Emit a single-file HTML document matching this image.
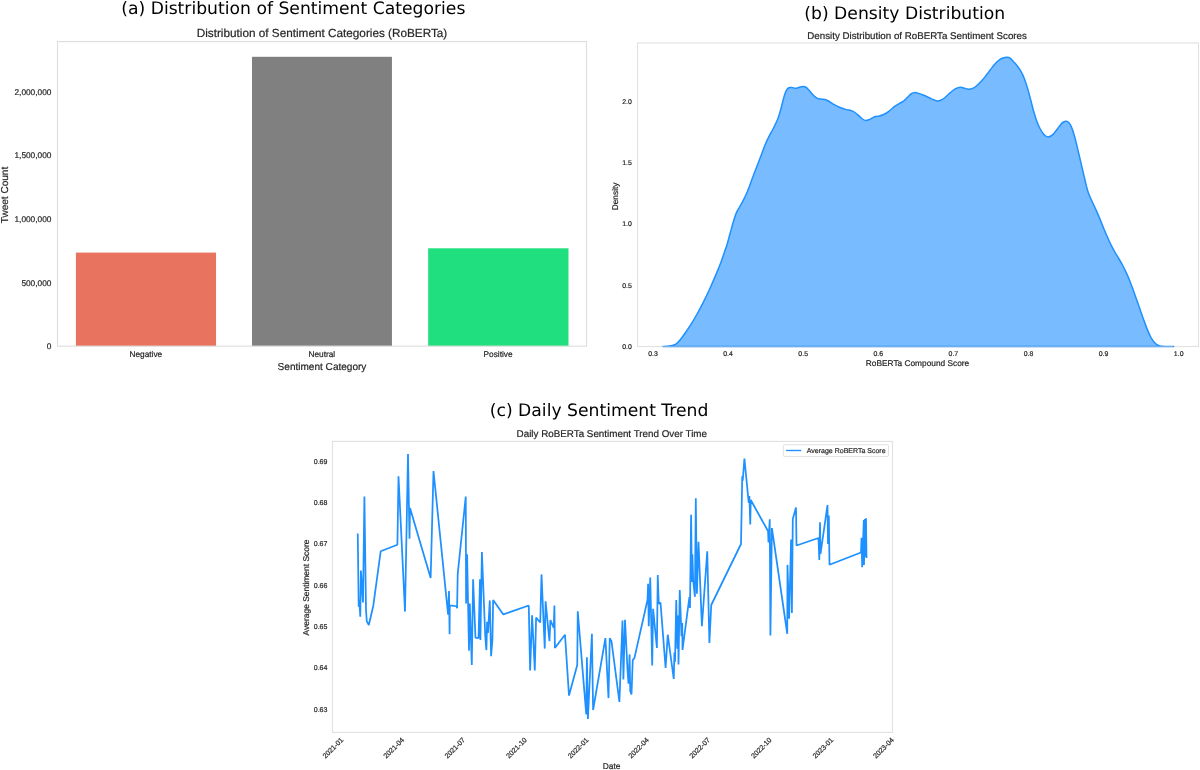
<!DOCTYPE html>
<html><head><meta charset="utf-8"><title>Sentiment figure</title>
<style>
html,body{margin:0;padding:0;background:#fff;}
body{width:1200px;height:770px;overflow:hidden;}
svg{display:block;}
.dj{text-rendering:geometricPrecision;font-family:"DejaVu Sans","Liberation Sans",sans-serif;fill:#000;}
.lb{text-rendering:geometricPrecision;stroke:#262626;stroke-width:0.2px;font-family:"Liberation Sans",sans-serif;fill:#262626;}
.ax{fill:none;stroke:#dedede;stroke-width:1.15;}
</style></head><body>
<svg width="1200" height="770" viewBox="0 0 1200 770">
<rect width="1200" height="770" fill="#fff"/>

<text class="dj" x="293.3" y="14.3" font-size="17.2" text-anchor="middle">(a) Distribution of Sentiment Categories</text>
<text class="dj" x="904.75" y="18.8" font-size="17.2" text-anchor="middle">(b) Density Distribution</text>
<text class="dj" x="599.1" y="415.6" font-size="17.2" text-anchor="middle">(c) Daily Sentiment Trend</text>
<g id="panel-a">
<rect x="75.9" y="252.6" width="140.15" height="93.55" fill="#e8735e"/>
<rect x="252.0" y="56.8" width="139.95" height="289.35" fill="#808080"/>
<rect x="428.15" y="248.3" width="140.35000000000002" height="97.85" fill="#20df7f"/>
<rect class="ax" x="57.5" y="41.6" width="529.0" height="304.54999999999995"/>
<text class="lb" x="322" y="36.7" font-size="11.75" text-anchor="middle">Distribution of Sentiment Categories (RoBERTa)</text>
<text class="lb" x="51.4" y="349.3" font-size="8.3" text-anchor="end">0</text>
<text class="lb" x="51.4" y="285.65" font-size="8.3" text-anchor="end">500,000</text>
<text class="lb" x="51.4" y="222" font-size="8.3" text-anchor="end">1,000,000</text>
<text class="lb" x="51.4" y="158.35" font-size="8.3" text-anchor="end">1,500,000</text>
<text class="lb" x="51.4" y="94.7" font-size="8.3" text-anchor="end">2,000,000</text>
<text class="lb" x="145.8" y="357.2" font-size="8.3" text-anchor="middle">Negative</text>
<text class="lb" x="321.8" y="357.2" font-size="8.3" text-anchor="middle">Neutral</text>
<text class="lb" x="498.1" y="357.2" font-size="8.3" text-anchor="middle">Positive</text>
<text class="lb" x="322" y="370.2" font-size="10.05" text-anchor="middle">Sentiment Category</text>
<text class="lb" x="0" y="0" font-size="10.05" text-anchor="middle" transform="translate(7.8,195) rotate(-90)">Tweet Count</text>
</g>
<g id="panel-b">
<rect class="ax" style="stroke:#e2e2e2" x="637.5" y="43.0" width="561.0" height="303.5"/>
<path d="M663,346.4C663.67,346.37 665.42,346.35 667,346.2C668.58,346.05 670.96,345.88 672.5,345.5C674.04,345.12 675,344.8 676.25,343.9C677.5,343 678.54,341.88 680,340.1C681.46,338.33 683.12,335.95 685,333.25C686.88,330.55 689.17,327.23 691.25,323.9C693.33,320.57 695.42,317 697.5,313.25C699.58,309.5 701.67,305.57 703.75,301.4C705.83,297.23 707.92,292.83 710,288.25C712.08,283.67 714.38,278.38 716.25,273.9C718.12,269.42 719.91,264.97 721.25,261.4C722.59,257.83 723.36,255.23 724.3,252.5C725.24,249.77 725.95,248.12 726.9,245C727.85,241.88 728.97,237.5 730,233.75C731.03,230 732.06,225.94 733.1,222.5C734.14,219.06 735.1,215.81 736.25,213.1C737.4,210.39 738.75,208.53 740,206.25C741.25,203.97 742.5,201.9 743.75,199.4C745,196.9 746.25,194.28 747.5,191.25C748.75,188.22 750,184.58 751.25,181.25C752.5,177.92 753.84,174.29 755,171.25C756.16,168.21 757.16,165.71 758.2,163C759.24,160.29 760.12,158 761.25,155C762.38,152 763.75,148.02 765,145C766.25,141.98 767.5,139.4 768.75,136.9C770,134.4 771.36,132.19 772.5,130C773.64,127.81 774.67,125.73 775.6,123.75C776.53,121.77 777.27,120.39 778.1,118.1C778.93,115.81 779.87,112.6 780.6,110C781.33,107.4 781.87,104.9 782.5,102.5C783.13,100.1 783.77,97.58 784.4,95.6C785.02,93.62 785.52,91.91 786.25,90.6C786.98,89.29 787.81,88.27 788.75,87.75C789.69,87.23 790.76,87.42 791.9,87.5C793.04,87.58 794.35,88.29 795.6,88.25C796.85,88.21 798.15,87.53 799.4,87.25C800.65,86.97 801.96,86.56 803.1,86.6C804.24,86.64 805.2,86.83 806.25,87.5C807.3,88.17 808.26,89.35 809.4,90.6C810.54,91.85 811.85,93.75 813.1,95C814.35,96.25 815.65,97.42 816.9,98.1C818.15,98.78 819.25,98.88 820.6,99.1C821.95,99.32 823.64,99.04 825,99.4C826.36,99.76 827.29,100.42 828.75,101.25C830.21,102.08 831.88,103.36 833.75,104.4C835.62,105.44 837.92,106.63 840,107.5C842.08,108.37 844.38,109.08 846.25,109.6C848.12,110.12 849.79,110.12 851.25,110.6C852.71,111.08 853.75,111.67 855,112.5C856.25,113.33 857.5,114.52 858.75,115.6C860,116.68 861.36,118.2 862.5,119C863.64,119.8 864.56,120.28 865.6,120.4C866.64,120.53 867.6,120.17 868.75,119.75C869.9,119.33 871.36,118.44 872.5,117.9C873.64,117.36 874.45,116.83 875.6,116.5C876.75,116.17 878.15,116.19 879.4,115.9C880.65,115.61 881.85,115.28 883.1,114.75C884.35,114.22 885.58,113.62 886.9,112.75C888.22,111.88 889.65,110.59 891,109.5C892.35,108.41 893.5,107.27 895,106.2C896.5,105.13 898.54,103.97 900,103.1C901.46,102.23 902.5,101.97 903.75,101C905,100.03 906.25,98.46 907.5,97.25C908.75,96.04 910,94.54 911.25,93.75C912.5,92.96 913.75,92.56 915,92.5C916.25,92.44 917.29,92.94 918.75,93.4C920.21,93.86 922.08,94.57 923.75,95.25C925.42,95.93 927.08,96.75 928.75,97.5C930.42,98.25 932.29,99.18 933.75,99.75C935.21,100.32 936.25,100.86 937.5,100.9C938.75,100.94 940,100.57 941.25,100C942.5,99.43 943.75,98.5 945,97.5C946.25,96.5 947.4,95.21 948.75,94C950.1,92.79 951.64,91.27 953.1,90.25C954.56,89.23 956.25,88.4 957.5,87.9C958.75,87.4 959.56,87.25 960.6,87.25C961.64,87.25 962.6,87.61 963.75,87.9C964.9,88.19 966.36,88.8 967.5,89C968.64,89.2 969.56,89.28 970.6,89.1C971.64,88.92 972.6,88.58 973.75,87.9C974.9,87.22 976.25,86.11 977.5,85C978.75,83.89 980,82.6 981.25,81.25C982.5,79.9 983.75,78.46 985,76.9C986.25,75.34 987.5,73.57 988.75,71.9C990,70.23 991.25,68.47 992.5,66.9C993.75,65.33 995,63.75 996.25,62.5C997.5,61.25 998.75,60.19 1000,59.4C1001.25,58.61 1002.6,58.11 1003.75,57.75C1004.9,57.39 1005.86,57.19 1006.9,57.25C1007.94,57.31 1008.86,57.33 1010,58.1C1011.14,58.88 1012.5,60.54 1013.75,61.9C1015,63.26 1016.25,64.58 1017.5,66.25C1018.75,67.92 1020.1,69.82 1021.25,71.9C1022.4,73.98 1023.36,76.05 1024.4,78.75C1025.44,81.45 1026.47,84.66 1027.5,88.1C1028.53,91.54 1029.62,95.67 1030.6,99.4C1031.58,103.13 1032.35,106.8 1033.4,110.5C1034.45,114.2 1035.8,118.6 1036.9,121.6C1038,124.6 1038.97,126.52 1040,128.5C1041.03,130.48 1042.17,132.25 1043.1,133.5C1044.03,134.75 1044.77,135.43 1045.6,136C1046.43,136.57 1047.16,136.94 1048.1,136.9C1049.04,136.86 1050.2,136.42 1051.25,135.75C1052.3,135.08 1053.36,134.07 1054.4,132.9C1055.44,131.73 1056.47,130.11 1057.5,128.75C1058.53,127.39 1059.67,125.83 1060.6,124.75C1061.53,123.67 1062.16,122.83 1063.1,122.25C1064.04,121.67 1065.31,121.21 1066.25,121.25C1067.19,121.29 1067.92,121.61 1068.75,122.5C1069.58,123.39 1070.42,124.77 1071.25,126.6C1072.08,128.43 1072.92,130.78 1073.75,133.5C1074.58,136.22 1075.42,139.57 1076.25,142.9C1077.08,146.23 1077.92,149.97 1078.75,153.5C1079.58,157.03 1080.42,160.56 1081.25,164.1C1082.08,167.64 1082.94,171.31 1083.75,174.75C1084.56,178.19 1085.29,181.62 1086.1,184.75C1086.91,187.88 1087.53,190.58 1088.6,193.5C1089.67,196.42 1091.22,199.43 1092.5,202.25C1093.78,205.07 1095,207.59 1096.25,210.4C1097.5,213.21 1098.75,216.08 1100,219.1C1101.25,222.12 1102.5,225.47 1103.75,228.5C1105,231.53 1106.25,234.43 1107.5,237.25C1108.75,240.07 1110,242.9 1111.25,245.4C1112.5,247.9 1113.75,250.07 1115,252.25C1116.25,254.43 1117.5,256.38 1118.75,258.5C1120,260.62 1121.19,262.52 1122.5,265C1123.81,267.48 1125.17,270.2 1126.6,273.4C1128.03,276.6 1129.6,280.31 1131.1,284.2C1132.6,288.09 1134.12,292.57 1135.6,296.75C1137.08,300.93 1138.64,305.39 1140,309.25C1141.36,313.11 1142.5,316.46 1143.75,319.9C1145,323.34 1146.36,327.09 1147.5,329.9C1148.64,332.71 1149.56,334.77 1150.6,336.75C1151.64,338.73 1152.7,340.44 1153.75,341.75C1154.8,343.06 1155.86,343.91 1156.9,344.6C1157.94,345.29 1158.65,345.6 1160,345.9C1161.35,346.2 1162.73,346.3 1165,346.4C1167.27,346.5 1172.17,346.48 1173.6,346.5Z" fill="#1e90ff" fill-opacity="0.6" stroke="#1e90ff" stroke-width="1.5" stroke-linejoin="round"/>
<line x1="662" y1="346.5" x2="1173.3" y2="346.5" stroke="#cccccc" stroke-opacity="0.5" stroke-width="1"/>
<text class="lb" x="917.1" y="39.3" font-size="9.74" text-anchor="middle">Density Distribution of RoBERTa Sentiment Scores</text>
<text class="lb" x="631.9" y="349" font-size="6.95" text-anchor="end">0.0</text>
<text class="lb" x="631.9" y="287.7" font-size="6.95" text-anchor="end">0.5</text>
<text class="lb" x="631.9" y="226.4" font-size="6.95" text-anchor="end">1.0</text>
<text class="lb" x="631.9" y="165.1" font-size="6.95" text-anchor="end">1.5</text>
<text class="lb" x="631.9" y="103.8" font-size="6.95" text-anchor="end">2.0</text>
<text class="lb" x="653" y="356.3" font-size="6.95" text-anchor="middle">0.3</text>
<text class="lb" x="728.1" y="356.3" font-size="6.95" text-anchor="middle">0.4</text>
<text class="lb" x="803.2" y="356.3" font-size="6.95" text-anchor="middle">0.5</text>
<text class="lb" x="878.3" y="356.3" font-size="6.95" text-anchor="middle">0.6</text>
<text class="lb" x="953.4" y="356.3" font-size="6.95" text-anchor="middle">0.7</text>
<text class="lb" x="1028.5" y="356.3" font-size="6.95" text-anchor="middle">0.8</text>
<text class="lb" x="1103.6" y="356.3" font-size="6.95" text-anchor="middle">0.9</text>
<text class="lb" x="1178.7" y="356.3" font-size="6.95" text-anchor="middle">1.0</text>
<text class="lb" x="917.5" y="366.0" font-size="8.32" text-anchor="middle">RoBERTa Compound Score</text>
<text class="lb" x="0" y="0" font-size="8.32" text-anchor="middle" transform="translate(618.3,196.4) rotate(-90)">Density</text>
</g>
<g id="panel-c">
<polyline points="357.75,533.5 358.7,606.8 359.2,599.5 360.3,616.7 360.9,570.5 363,602.4 364.4,496.6 366,610 366.8,621.3 368.8,625 373.3,605.7 380.7,551.25 397.4,544.7 398.5,476.25 405,611.6 408,454 409.5,538.75 410,508 430.65,577.9 433.5,471 448.1,614.6 449,591 449.6,634.2 449.8,605.4 456.7,606.25 457.1,608.3 457.7,574.2 465.75,496.5 466.1,603.4 467.1,554.2 469,650.8 469.8,603.5 471.8,665 473.1,579.2 475.45,637.6 478.55,638.2 480,579.2 480.4,640 481.9,552.1 485.3,637.3 486.4,650.1 487.1,621.7 488,633 489.8,600.4 491.1,656.2 492.4,640 493.15,599.9 503.3,614.4 528.75,605.5 530.1,670.5 532.1,615.2 534.8,670.5 536.1,617.5 540.25,622.5 541.5,574.4 544.75,648.6 545.6,601.25 549.45,641.25 550.4,620 553.75,628 554.4,605.6 554.9,648 565,634.8 569,695.6 577.25,665 577.75,611.25 586.25,714.4 586.9,657.25 587.9,719 591.9,633.75 593.1,710 605.4,638.1 608.5,698.1 609.75,638.1 611.5,641.25 619.4,701.9 622.5,620.6 623.4,679.4 625,619.75 627.5,670 628.5,683.75 629.6,654.4 630.25,691.25 631.5,694.4 632.75,660 634.4,658.1 647.5,600 648.1,583.75 648.75,626.25 650.25,577.5 652.2,665.6 653.1,608.75 656.9,648 657.75,575 658.75,603.75 660.5,602.5 665.6,668 667.75,634.7 673.75,679 674.4,652.5 675,661.9 676.25,600 677.3,648.75 678.1,615.6 678.5,664.4 679.75,590 681.5,636.25 682.25,623 682.5,650 689.4,597 690,608 691.1,514.8 691.9,582 692.4,554.2 693.2,580.5 694.9,596.7 695.8,498.3 696.9,593.75 698.5,541.9 701.9,626.25 707.25,551.25 709.4,643 711.25,605 741,544 742.25,476.25 742.75,480.6 744.4,458.5 748.75,503 749.4,496 750.25,524.4 750.75,500 768.1,531.25 768.5,542.5 769.75,519.2 770.4,635.6 771.9,528.1 787.25,633.75 787.5,564.9 789.1,618.75 791.1,539.5 791.9,612.9 792.8,518.9 796,507.5 796.5,545.5 818.5,538 819.3,560 820,522.2 820.5,554 827.5,505 828,544 828.8,515.5 829.5,564.8 861,552.5 861.5,537.8 862.2,567.2 863.8,520 864,565 864.8,519 865.2,557 866,518.2 866.5,558" fill="none" stroke="#1e90ff" stroke-width="1.75" stroke-linejoin="bevel" stroke-linecap="butt"/>
<rect class="ax" style="stroke:#e2e2e2" x="332.5" y="441.4" width="560.0" height="291.0"/>
<text class="lb" x="611.8" y="436.8" font-size="9.84" text-anchor="middle">Daily RoBERTa Sentiment Trend Over Time</text>
<text class="lb" x="327.4" y="711.6" font-size="7.03" text-anchor="end">0.63</text>
<text class="lb" x="327.4" y="670.25" font-size="7.03" text-anchor="end">0.64</text>
<text class="lb" x="327.4" y="628.9" font-size="7.03" text-anchor="end">0.65</text>
<text class="lb" x="327.4" y="587.55" font-size="7.03" text-anchor="end">0.66</text>
<text class="lb" x="327.4" y="546.2" font-size="7.03" text-anchor="end">0.67</text>
<text class="lb" x="327.4" y="504.85" font-size="7.03" text-anchor="end">0.68</text>
<text class="lb" x="327.4" y="463.5" font-size="7.03" text-anchor="end">0.69</text>
<text class="lb" x="0" y="0" font-size="7.03" text-anchor="end" transform="translate(343.75,740.5) rotate(-45)">2021-01</text>
<text class="lb" x="0" y="0" font-size="7.03" text-anchor="end" transform="translate(404.56,740.5) rotate(-45)">2021-04</text>
<text class="lb" x="0" y="0" font-size="7.03" text-anchor="end" transform="translate(465.6,740.5) rotate(-45)">2021-07</text>
<text class="lb" x="0" y="0" font-size="7.03" text-anchor="end" transform="translate(527.3,740.5) rotate(-45)">2021-10</text>
<text class="lb" x="0" y="0" font-size="7.03" text-anchor="end" transform="translate(589.01,740.5) rotate(-45)">2022-01</text>
<text class="lb" x="0" y="0" font-size="7.03" text-anchor="end" transform="translate(649.37,740.5) rotate(-45)">2022-04</text>
<text class="lb" x="0" y="0" font-size="7.03" text-anchor="end" transform="translate(710.4,740.5) rotate(-45)">2022-07</text>
<text class="lb" x="0" y="0" font-size="7.03" text-anchor="end" transform="translate(772.11,740.5) rotate(-45)">2022-10</text>
<text class="lb" x="0" y="0" font-size="7.03" text-anchor="end" transform="translate(833.81,740.5) rotate(-45)">2023-01</text>
<text class="lb" x="0" y="0" font-size="7.03" text-anchor="end" transform="translate(894.17,740.5) rotate(-45)">2023-04</text>
<text class="lb" x="611.6" y="768.7" font-size="8.43" text-anchor="middle">Date</text>
<text class="lb" x="0" y="0" font-size="8.43" text-anchor="middle" transform="translate(308.5,587.5) rotate(-90)">Average Sentiment Score</text>
<rect x="783.3" y="444.7" width="105.2" height="11.9" rx="1.4" ry="1.4" fill="#fff" fill-opacity="0.8" stroke="#d4d4d4" stroke-width="0.7"/>
<line x1="786.1" y1="450.5" x2="801.3" y2="450.5" stroke="#1e90ff" stroke-width="1.4"/>
<text class="lb" x="806.8" y="453.0" font-size="7.0">Average RoBERTa Score</text>
</g>
</svg></body></html>
